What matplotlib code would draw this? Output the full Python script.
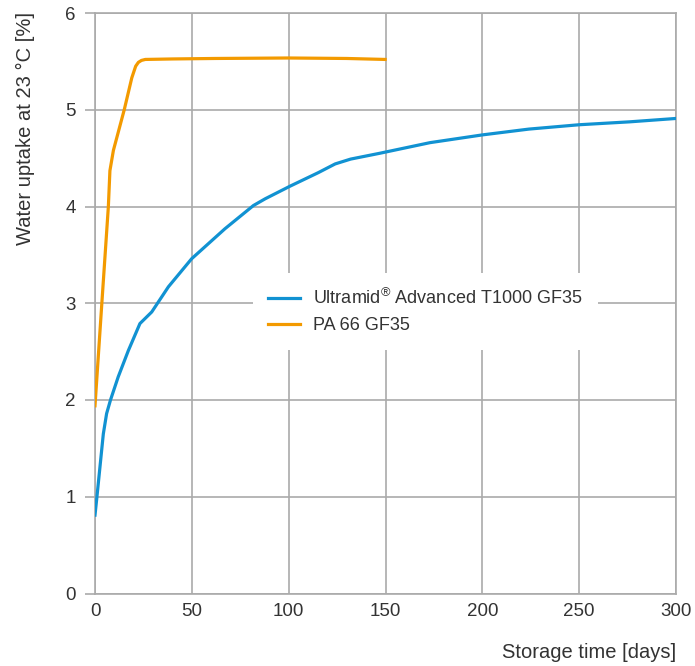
import matplotlib
matplotlib.use("Agg")
import matplotlib.pyplot as plt
import numpy as np

plt.rcParams['font.family'] = ['Liberation Sans', 'DejaVu Sans']
plt.rcParams['mathtext.fontset'] = 'custom'
plt.rcParams['mathtext.rm'] = 'Liberation Sans'

# storage time [days] vs. water uptake [%]
days_ultramid = [0, 1, 4.3, 6.0, 8, 12, 17.2, 23.2, 29.3, 37.9, 49.9, 67.1, 81.8,
                 87.9, 100.7, 115.3, 124, 132, 147, 173, 200, 224, 250, 276, 300]
uptake_ultramid = [0.81, 1.0, 1.65, 1.86, 2.0, 2.24, 2.51, 2.79, 2.91, 3.17, 3.46, 3.77, 4.01,
                   4.08, 4.21, 4.35, 4.44, 4.49, 4.55, 4.66, 4.74, 4.80, 4.845, 4.875, 4.91]

days_pa66 = [0, 3.5, 6.9, 7.7, 9.5, 15.1, 19, 21, 22.4, 24, 26, 40, 62, 100, 130, 149.8]
uptake_pa66 = [1.94, 2.99, 4.0, 4.37, 4.58, 5.0, 5.33, 5.45, 5.49, 5.51, 5.52, 5.525,
               5.53, 5.535, 5.53, 5.52]

labels = [r'Ultramid$^{\circledR}$ Advanced T1000 GF35', 'PA 66 GF35']
x_ticks = [0, 50, 100, 150, 200, 250, 300]
y_ticks = [0, 1, 2, 3, 4, 5, 6]

text_col = '#333333'
grid_col = '#aaaaaa'

fig = plt.figure(figsize=(6.95, 6.66), dpi=100)
ax = fig.add_axes([95 / 695, 1 - 593.5 / 666, 581 / 695, 580.5 / 666])

ax.plot(days_ultramid, uptake_ultramid, color='#1192d2', lw=2.3, label=labels[0], zorder=3)
ax.plot(days_pa66, uptake_pa66, color='#f39a00', lw=2.3, label=labels[1], zorder=3)

ax.set_xlim(0, 300)
ax.set_ylim(0, 6)
ax.set_xticks(x_ticks)
ax.set_yticks(y_ticks)
ax.grid(True, color=grid_col, lw=1.2)
ax.set_axisbelow(True)
for s in ax.spines.values():
    s.set_color(grid_col)
    s.set_linewidth(1.2)
ax.tick_params(axis='x', length=0, pad=7, labelsize=13.5, labelcolor=text_col)
ax.tick_params(axis='y', length=7, width=1.2, color=grid_col, pad=7, labelsize=13.5, labelcolor=text_col)

fig.text(25 / 695, 1 - 12 / 666, 'Water uptake at 23 °C [%]', rotation=90,
         ha='center', va='top', fontsize=14.5, color=text_col)
fig.text(676 / 695, 1 - 652 / 666, 'Storage time [days]', ha='right', va='center',
         fontsize=14.5, color=text_col)

leg = ax.legend(loc='upper left', bbox_to_anchor=(253 / 695, 1 - 273 / 666),
                bbox_transform=fig.transFigure, borderaxespad=0, frameon=True,
                fancybox=False, framealpha=1, facecolor='white', edgecolor='none',
                fontsize=13, handlelength=1.75, handletextpad=0.75, labelspacing=0.5,
                borderpad=0.85)
for t in leg.get_texts():
    t.set_color(text_col)

fig.savefig('out.png', dpi=100)
